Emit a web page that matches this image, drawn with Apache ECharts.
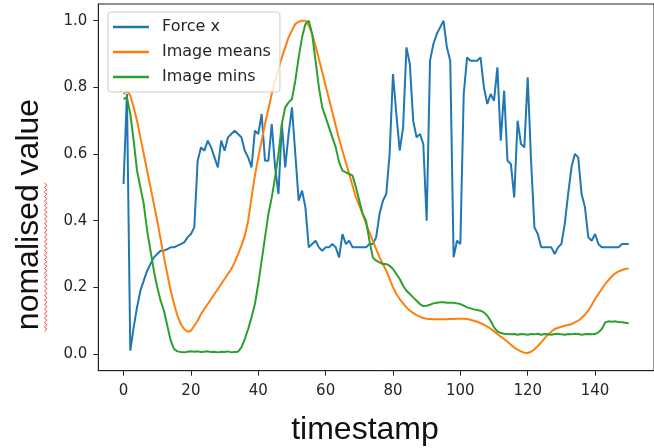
<!DOCTYPE html>
<html>
<head>
<meta charset="utf-8">
<script src="https://cdn.jsdelivr.net/npm/echarts@6/dist/echarts.min.js"></script>
<style>
  html, body { margin: 0; padding: 0; background: #fff; }
  #chart { width: 654px; height: 448px; }
</style>
</head>
<body>
<div id="chart"></div>
<script>
// 刻度
const xTicks = [0, 20, 40, 60, 80, 100, 120, 140];
const yTicks = [0, 0.2, 0.4, 0.6, 0.8, 1.0];
const seriesNames = ["Force x", "Image means", "Image mins"];

// 每个时间点的数值 (0 ~ 150)
const forceX = [
  0.51, 0.78, 0.01, 0.08, 0.14, 0.19, 0.22, 0.25, 0.27, 0.29,
  0.30, 0.31, 0.31, 0.315, 0.32, 0.32, 0.325, 0.33, 0.335, 0.35,
  0.36, 0.38, 0.58, 0.62, 0.61, 0.64, 0.62, 0.59, 0.56, 0.64,
  0.61, 0.65, 0.66, 0.67, 0.66, 0.65, 0.61, 0.59, 0.56, 0.67,
  0.66, 0.72, 0.58, 0.58, 0.69, 0.56, 0.48, 0.69, 0.56, 0.66,
  0.74, 0.60, 0.46, 0.49, 0.44, 0.32, 0.33, 0.34, 0.32, 0.31,
  0.32, 0.32, 0.33, 0.32, 0.29, 0.36, 0.33, 0.34, 0.32, 0.32,
  0.32, 0.32, 0.32, 0.33, 0.33, 0.35, 0.42, 0.46, 0.48, 0.60,
  0.84, 0.72, 0.61, 0.68, 0.92, 0.87, 0.70, 0.65, 0.66, 0.63,
  0.40, 0.88, 0.93, 0.96, 0.98, 1.00, 0.92, 0.88, 0.29, 0.34,
  0.33, 0.78, 0.89, 0.88, 0.88, 0.88, 0.89, 0.80, 0.75, 0.78,
  0.76, 0.86, 0.64, 0.79, 0.58, 0.57, 0.47, 0.70, 0.63, 0.62,
  0.83, 0.58, 0.38, 0.36, 0.32, 0.32, 0.32, 0.32, 0.30, 0.32,
  0.33, 0.39, 0.48, 0.56, 0.60, 0.59, 0.48, 0.44, 0.35, 0.34,
  0.36, 0.33, 0.32, 0.32, 0.32, 0.32, 0.32, 0.32, 0.33, 0.33,
  0.33
];
const imageMeans = [
  0.78, 0.79, 0.775, 0.74, 0.70, 0.65, 0.60, 0.55, 0.50, 0.45,
  0.40, 0.345, 0.29, 0.24, 0.19, 0.15, 0.115, 0.09, 0.075, 0.067,
  0.07, 0.085, 0.10, 0.12, 0.135, 0.15, 0.165, 0.18, 0.195, 0.21,
  0.225, 0.24, 0.255, 0.275, 0.30, 0.325, 0.355, 0.40, 0.47, 0.535,
  0.59, 0.64, 0.69, 0.735, 0.78, 0.82, 0.855, 0.89, 0.92, 0.95,
  0.97, 0.99, 0.997, 1.0, 1.0, 0.985, 0.96, 0.925, 0.885, 0.845,
  0.805, 0.765, 0.725, 0.685, 0.645, 0.61, 0.575, 0.54, 0.505, 0.47,
  0.445, 0.42, 0.39, 0.365, 0.34, 0.315, 0.29, 0.27, 0.25, 0.225,
  0.20, 0.18, 0.165, 0.152, 0.14, 0.13, 0.123, 0.117, 0.112, 0.108,
  0.106, 0.105, 0.104, 0.104, 0.104, 0.104, 0.104, 0.105, 0.105, 0.106,
  0.106, 0.106, 0.105, 0.103, 0.10, 0.097, 0.093, 0.088, 0.082, 0.076,
  0.068, 0.06, 0.052, 0.045, 0.037, 0.028, 0.02, 0.013, 0.008, 0.004,
  0.003, 0.007, 0.014, 0.024, 0.035, 0.047, 0.058, 0.067, 0.075, 0.079,
  0.082, 0.085, 0.087, 0.09, 0.095, 0.10, 0.108, 0.118, 0.13, 0.147,
  0.165, 0.18, 0.195, 0.21, 0.222, 0.233, 0.242, 0.248, 0.252, 0.255,
  0.257
];
const imageMins = [
  0.765, 0.77, 0.72, 0.64, 0.55, 0.50, 0.45, 0.37, 0.31, 0.25,
  0.20, 0.16, 0.13, 0.085, 0.04, 0.015, 0.008, 0.006, 0.005, 0.007,
  0.008, 0.007, 0.008, 0.006, 0.007, 0.008, 0.006, 0.007, 0.005, 0.007,
  0.006, 0.008, 0.005, 0.006, 0.007, 0.02, 0.045, 0.075, 0.11, 0.15,
  0.21, 0.28, 0.35, 0.42, 0.47, 0.53, 0.60, 0.69, 0.74, 0.755,
  0.765, 0.82, 0.89, 0.95, 0.99, 1.0, 0.96, 0.88, 0.80, 0.74,
  0.71, 0.68, 0.65, 0.62, 0.575, 0.55, 0.545, 0.54, 0.535, 0.50,
  0.46, 0.42, 0.40, 0.34, 0.29, 0.28, 0.275, 0.27, 0.27, 0.265,
  0.255, 0.24, 0.225, 0.205, 0.19, 0.18, 0.17, 0.16, 0.15, 0.144,
  0.145, 0.148, 0.152, 0.154, 0.155, 0.155, 0.154, 0.154, 0.154, 0.152,
  0.15, 0.145, 0.14, 0.137, 0.134, 0.132, 0.13, 0.125, 0.115, 0.10,
  0.08, 0.068, 0.063, 0.061, 0.06, 0.059, 0.06, 0.058, 0.06, 0.059,
  0.058, 0.06, 0.059, 0.061, 0.058, 0.06, 0.059, 0.058, 0.06, 0.061,
  0.059, 0.058, 0.06, 0.059, 0.061, 0.06, 0.058, 0.059, 0.06, 0.059,
  0.06, 0.065, 0.075, 0.095, 0.098, 0.097, 0.098, 0.096, 0.095, 0.094,
  0.092
];

const colors = ["#1f77b4", "#ff7f0e", "#2ca02c"];
const tickColor = "#262626";

// 时间戳就是下标
const pairs = (arr) => arr.map((v, i) => [i, v]);

// 拼写检查的红色波浪线 (截图里的)
const squiggle = [];
for (let y = 183, k = 0; y <= 332; y += 2.25, k++) {
  squiggle.push([k % 2 === 0 ? 44.3 : 47.1, y]);
}

const chart = echarts.init(document.getElementById("chart"));

const option = {
  animation: false,
  color: colors,
  grid: {
    left: 98.3,
    right: -9.3,
    top: 4,
    bottom: 77.3,
    show: true,
    borderColor: "#222",
    borderWidth: 1,
  },
  legend: {
    data: seriesNames,
    orient: "vertical",
    left: 108,
    top: 12,
    icon: "rect",
    itemWidth: 36,
    itemHeight: 2.5,
    itemGap: 7,
    padding: [6, 9, 6, 5],
    backgroundColor: "rgba(255,255,255,0.8)",
    borderColor: "#cccccc",
    borderWidth: 1,
    borderRadius: 3,
    textStyle: {
      fontFamily: "DejaVu Sans",
      fontSize: 16,
      lineHeight: 18,
      color: tickColor,
      padding: [0, 0, 0, 8],
    },
  },
  xAxis: {
    type: "value",
    min: -7.5,
    max: 157.5,
    splitLine: { show: false },
    axisLine: { show: true, onZero: false, lineStyle: { color: "#222", width: 1 } },
    axisTick: { show: true, customValues: xTicks, length: 5, lineStyle: { color: "#222" } },
    axisLabel: {
      customValues: xTicks,
      margin: 13,
      fontFamily: "DejaVu Sans",
      fontSize: 15,
      color: tickColor,
    },
  },
  yAxis: {
    type: "value",
    min: -0.05,
    max: 1.05,
    splitLine: { show: false },
    axisLine: { show: true, onZero: false, lineStyle: { color: "#222", width: 1 } },
    axisTick: { show: true, customValues: yTicks, length: 5, lineStyle: { color: "#222" } },
    axisLabel: {
      customValues: yTicks,
      margin: 11,
      fontFamily: "DejaVu Sans",
      fontSize: 15,
      color: tickColor,
      formatter: (v) => v.toFixed(1),
    },
  },
  series: [
    { name: seriesNames[0], data: pairs(forceX) },
    { name: seriesNames[1], data: pairs(imageMeans) },
    { name: seriesNames[2], data: pairs(imageMins) },
  ].map((s, i) => ({
    ...s,
    type: "line",
    showSymbol: false,
    lineStyle: { width: 2, color: colors[i] },
    z: 2 + i,
  })),
  graphic: [
    {
      type: "text",
      x: 365,
      y: 430,
      style: {
        text: "timestamp",
        font: "32px 'Liberation Sans', Arial, sans-serif",
        fill: "#111",
        textAlign: "center",
        textVerticalAlign: "middle",
      },
    },
    {
      type: "text",
      x: 29,
      y: 214.5,
      rotation: Math.PI / 2,
      style: {
        text: "nomalised value",
        font: "32px 'Liberation Sans', Arial, sans-serif",
        fill: "#111",
        textAlign: "center",
        textVerticalAlign: "middle",
      },
    },
    {
      type: "polyline",
      shape: { points: squiggle },
      style: { stroke: "#ff5050", lineWidth: 1, fill: null },
    },
  ],
};

chart.setOption(option);
</script>
</body>
</html>
